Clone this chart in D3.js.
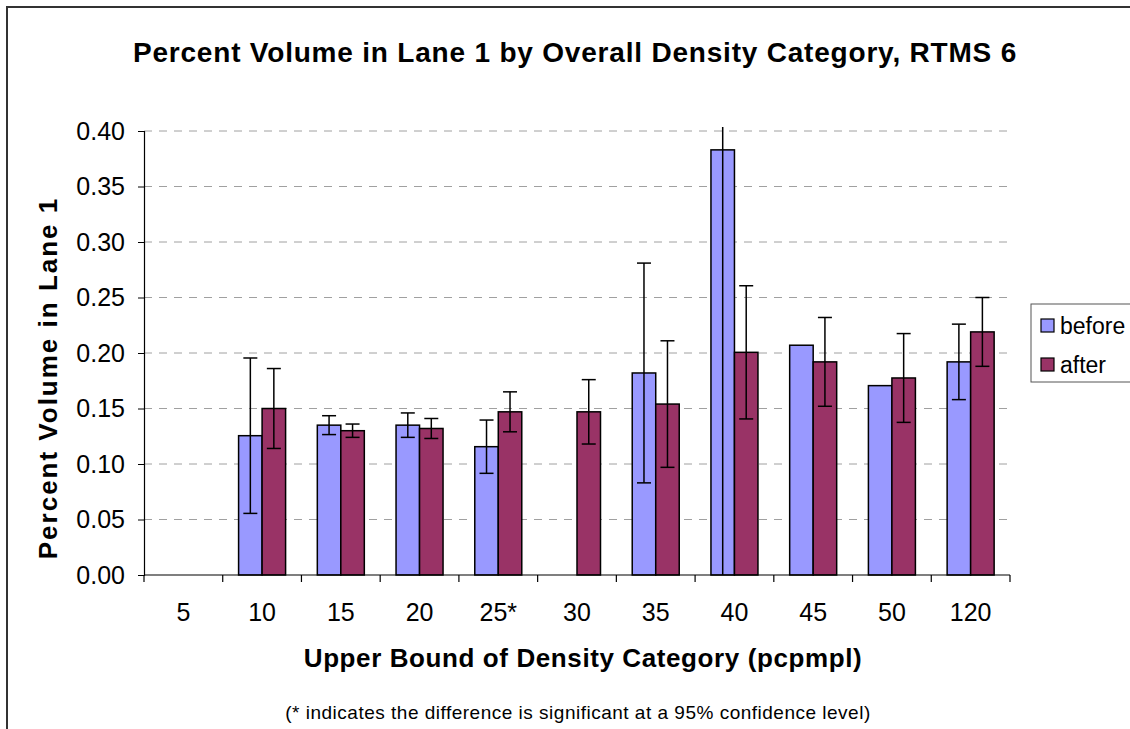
<!DOCTYPE html>
<html lang="en">
<head>
  <meta charset="UTF-8">
  <title>Percent Volume in Lane 1 by Overall Density Category, RTMS 6</title>
  <script src="https://d3js.org/d3.v7.min.js"></script>
  <style>
    body { margin: 0; background: #fff; }
    svg text { font-family: "Liberation Sans", Arial, sans-serif; fill: #000; }
  </style>
</head>
<body>
  <svg width="1130" height="729"></svg>
  <script>
    // Density categories (upper bound, pcpmpl)
    const categories = ["5", "10", "15", "20", "25*", "30", "35", "40", "45", "50", "120"];
    // Series means (null = no bar)
    const beforeValues = [null, 0.1255, 0.135, 0.135, 0.1156, 0.0, 0.182, 0.383, 0.207, 0.1706, 0.192];
    const afterValues  = [null, 0.150, 0.130, 0.132, 0.147, 0.147, 0.154, 0.2006, 0.192, 0.1775, 0.219];
    // Error bar half-widths (null = no error bar)
    const beforeErrors = [null, 0.070, 0.0085, 0.011, 0.024, null, 0.099, 0.40, null, null, 0.034];
    const afterErrors  = [null, 0.036, 0.006, 0.009, 0.018, 0.029, 0.057, 0.060, 0.040, 0.040, 0.031];
    const yTicks = [0, 0.05, 0.10, 0.15, 0.20, 0.25, 0.30, 0.35, 0.40];
    const seriesNames = ["before", "after"];
    const seriesColors = ["#9999FF", "#993366"];

    const svg = d3.select("svg");
    const margin = { left: 144, right: 1010, top: 131, bottom: 575 };

    // outer chart border (only top and left visible in the crop)
    svg.append("rect")
       .attr("x", 7).attr("y", 7)
       .attr("width", 1140).attr("height", 740)
       .attr("fill", "none")
       .attr("stroke", "#333")
       .attr("stroke-width", 2);

    const x = d3.scaleBand()
                .domain(categories)
                .range([margin.left, margin.right]);

    const y = d3.scaleLinear()
                .domain([0, 0.40])
                .range([margin.bottom, margin.top]);

    const barW = 23.5;

    // gridlines
    svg.append("g")
       .selectAll("line")
       .data(yTicks.filter(d => d > 0))
       .enter().append("line")
       .attr("x1", margin.left).attr("x2", margin.right)
       .attr("y1", d => y(d)).attr("y2", d => y(d))
       .attr("stroke", "#a0a0a0")
       .attr("stroke-width", 1)
       .attr("stroke-dasharray", "8,7");

    // clip for error bars that run past the plot area
    svg.append("clipPath").attr("id", "plotClip")
       .append("rect")
       .attr("x", margin.left).attr("y", margin.top - 4)
       .attr("width", margin.right - margin.left)
       .attr("height", margin.bottom - margin.top + 4);

    const series = [
      { name: seriesNames[0], values: beforeValues, errors: beforeErrors, color: seriesColors[0] },
      { name: seriesNames[1], values: afterValues, errors: afterErrors, color: seriesColors[1] }
    ];

    const groupOffset = (x.bandwidth() - 2 * barW) / 2;

    series.forEach((s, si) => {
      const rows = categories.map((c, i) => ({ cat: c, v: s.values[i], e: s.errors[i] }))
                             .filter(d => d.v !== null);
      const bx = d => x(d.cat) + groupOffset + si * barW;

      svg.append("g")
         .selectAll("rect")
         .data(rows)
         .enter().append("rect")
         .attr("x", bx)
         .attr("y", d => y(d.v))
         .attr("width", barW)
         .attr("height", d => y(0) - y(d.v))
         .attr("fill", s.color)
         .attr("stroke", "#000")
         .attr("stroke-width", 1.5);

      const eg = svg.append("g").attr("clip-path", "url(#plotClip)");
      const erows = rows.filter(d => d.e !== null);
      eg.selectAll("line.stem")
        .data(erows)
        .enter().append("line")
        .attr("class", "stem")
        .attr("x1", d => bx(d) + barW / 2).attr("x2", d => bx(d) + barW / 2)
        .attr("y1", d => y(d.v + d.e)).attr("y2", d => y(Math.max(0, d.v - d.e)))
        .attr("stroke", "#000").attr("stroke-width", 1.5);
      eg.selectAll("line.capTop")
        .data(erows.filter(d => d.v + d.e <= 0.40))
        .enter().append("line")
        .attr("x1", d => bx(d) + barW / 2 - 7).attr("x2", d => bx(d) + barW / 2 + 7)
        .attr("y1", d => y(d.v + d.e)).attr("y2", d => y(d.v + d.e))
        .attr("stroke", "#000").attr("stroke-width", 1.5);
      eg.selectAll("line.capBot")
        .data(erows.filter(d => d.v - d.e > 0))
        .enter().append("line")
        .attr("x1", d => bx(d) + barW / 2 - 7).attr("x2", d => bx(d) + barW / 2 + 7)
        .attr("y1", d => y(d.v - d.e)).attr("y2", d => y(d.v - d.e))
        .attr("stroke", "#000").attr("stroke-width", 1.5);
    });

    // y axis
    const yAxis = svg.append("g")
       .attr("transform", `translate(${margin.left},0)`)
       .call(d3.axisLeft(y).tickValues(yTicks).tickFormat(d3.format(".2f")).tickSizeOuter(0).tickSize(6).tickPadding(13));
    yAxis.select(".domain").attr("stroke", "#000").attr("stroke-width", 1.2);
    yAxis.selectAll(".tick line").attr("stroke", "#000");
    yAxis.selectAll("text").style("font-size", "25px").style("font-family", "Liberation Sans, Arial, sans-serif").attr("fill", "#000");

    // x axis with ticks at band boundaries
    const xg = svg.append("g")
       .attr("transform", `translate(0,${margin.bottom})`);
    xg.append("line")
      .attr("x1", margin.left).attr("x2", margin.right)
      .attr("stroke", "#000").attr("stroke-width", 1.2);
    const bounds = categories.map(c => x(c)).concat([margin.right]);
    xg.selectAll("line.tk")
      .data(bounds)
      .enter().append("line")
      .attr("x1", d => d).attr("x2", d => d)
      .attr("y1", 0).attr("y2", 7)
      .attr("stroke", "#000").attr("stroke-width", 1.2);
    xg.selectAll("text")
      .data(categories)
      .enter().append("text")
      .attr("x", d => x(d) + x.bandwidth() / 2)
      .attr("y", 46)
      .attr("text-anchor", "middle")
      .style("font-size", "25px")
      .text(d => d);

    // title
    svg.append("text")
       .attr("x", 575).attr("y", 62)
       .attr("text-anchor", "middle")
       .style("font-size", "28px")
       .style("font-weight", "bold")
       .style("letter-spacing", "0.8px")
       .text("Percent Volume in Lane 1 by Overall Density Category, RTMS 6");

    // axis titles
    svg.append("text")
       .attr("transform", "rotate(-90)")
       .attr("x", -378).attr("y", 57)
       .attr("text-anchor", "middle")
       .style("font-size", "26px")
       .style("font-weight", "bold")
       .style("letter-spacing", "2px")
       .text("Percent Volume in Lane 1");

    svg.append("text")
       .attr("x", 583).attr("y", 667)
       .attr("text-anchor", "middle")
       .style("font-size", "26px")
       .style("font-weight", "bold")
       .style("letter-spacing", "0.6px")
       .text("Upper Bound of Density Category (pcpmpl)");

    svg.append("text")
       .attr("x", 578).attr("y", 719)
       .attr("text-anchor", "middle")
       .style("font-size", "19px")
       .style("letter-spacing", "0.5px")
       .text("(* indicates the difference is significant at a 95% confidence level)");

    // legend
    const lg = svg.append("g");
    lg.append("rect")
      .attr("x", 1031).attr("y", 304)
      .attr("width", 110).attr("height", 78)
      .attr("fill", "#fff").attr("stroke", "#555").attr("stroke-width", 1);
    seriesNames.forEach((n, i) => {
      lg.append("rect")
        .attr("x", 1041).attr("y", 319 + i * 39)
        .attr("width", 13).attr("height", 13)
        .attr("fill", seriesColors[i]).attr("stroke", "#000").attr("stroke-width", 1.2);
      lg.append("text")
        .attr("x", 1060).attr("y", 334 + i * 39)
        .style("font-size", "23px")
        .text(n);
    });
  </script>
</body>
</html>
